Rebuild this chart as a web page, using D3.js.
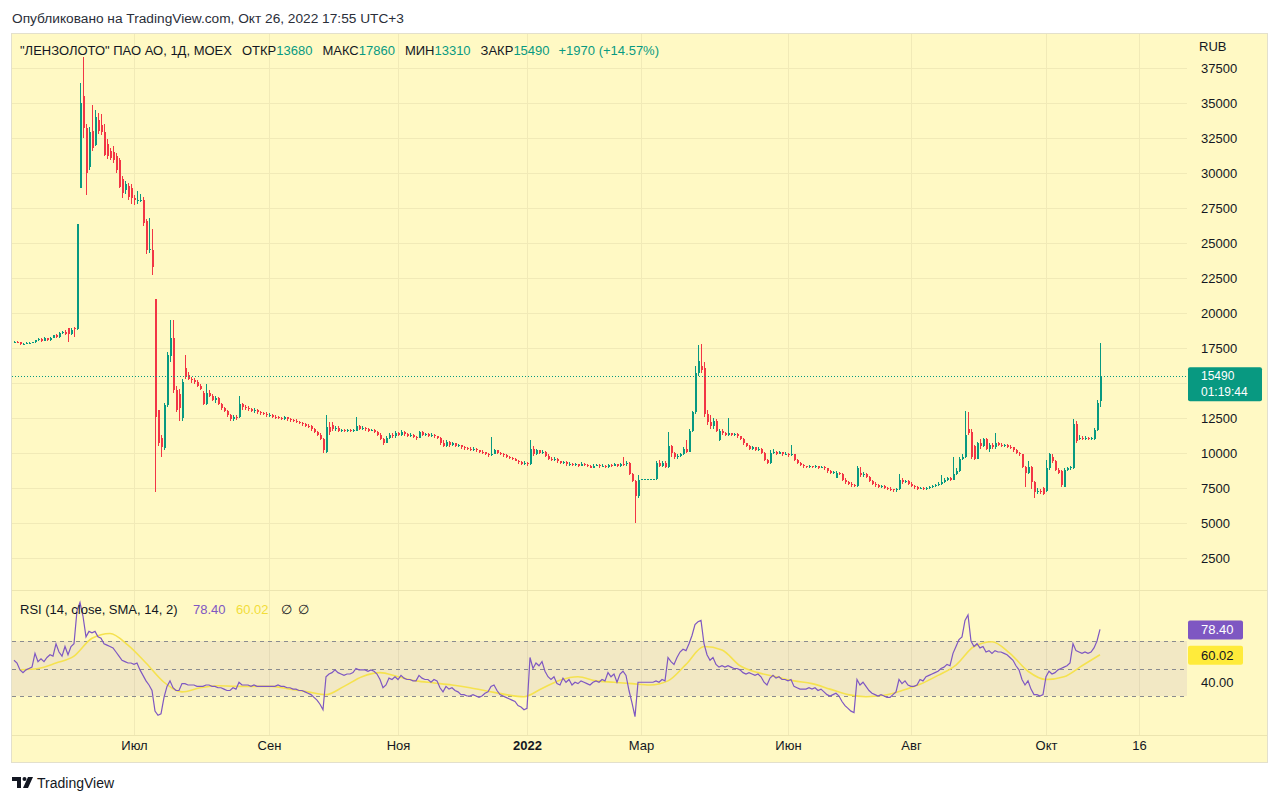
<!DOCTYPE html>
<html>
<head>
<meta charset="utf-8">
<script src="https://cdn.jsdelivr.net/npm/d3@7"></script>
<style>
  body { margin: 0; background: #fff; font-family: "Liberation Sans", Arial, sans-serif; }
  svg text { font-family: "Liberation Sans", Arial, sans-serif; }
</style>
</head>
<body>
<div id="chart"></div>
<script>
// daily candles, LNZL MOEX, May 2021 .. Oct 26 2022 (bar index = trading day)
var OPEN = [17900,17950,17900,17780,17820,17850,17880,17900,18050,18150,18000,18200,18050,18250,18400,18300,18550,18650,18900,18500,18900,
18850,28900,35500,33200,30450,33000,32000,33800,33400,32900,32100,31600,31500,31200,30900,29600,28800,29100,28900,28200,28000,28000,28100,26600,24500,24500,
21000,13100,11100,10330,13430,16900,18200,14500,14200,12480,16050,
15600,15300,15200,15100,14800,
14300,13500,14300,14100,13800,13900,13500,13200,13000,12700,12450,12600,
12600,13500,13300,13250,13150,13000,13100,12900,12850,12800,12700,12750,12600,12550,12500,
12450,12550,12400,12350,12300,12250,12150,12050,11950,11900,11700,11500,11300,11000,
10100,11850,12000,11700,11800,11600,11650,11600,11650,11600,
11600,11900,11750,11800,11700,11600,11650,11500,11300,11000,10750,11100,11300,11200,11400,
11300,11500,11350,11250,11300,11150,11100,11500,11300,11350,11250,11300,11200,
11100,10700,10500,10800,10600,10700,10500,10550,10400,10350,10300,10250,10300,10200,10100,10050,9950,
9850,9950,10200,10000,9900,9850,9750,9650,9600,9450,9350,9250,9300,
9200,10300,9900,10200,10000,10100,9800,9600,9500,9600,9400,9300,9350,9200,9250,9150,9200,
9100,9250,9150,9100,8950,9100,9150,9050,9100,9000,9150,9100,9200,9100,9250,9200,
9300,8500,8000,6900,8140,8140,8140,8140,8140,
8140,9300,9100,9300,9000,10500,10000,9700,9800,9900,10300,10100,11600,12900,15700,16200,
16100,12800,12200,11900,12300,10950,11600,11400,11300,11400,11300,11350,11200,11000,10700,10500,
10300,10400,10250,10300,10000,9500,9300,10000,10100,9950,10050,9900,9950,9850,
9900,9500,9300,9150,9050,9000,9050,9000,9050,8950,9000,8900,8700,8600,
8250,8600,8500,8100,7900,7800,7700,7650,8600,8400,8500,8300,8000,7800,7700,
7600,7650,7500,7450,7400,7350,7400,8100,7900,8000,7800,7650,7550,7450,7500,7400,
7500,7550,7650,7700,7800,7900,8050,8200,8100,8500,8700,9600,9700,11700,
11500,10500,9600,10700,10500,11000,10300,10600,10400,10700,10600,10500,10550,10450,10400,10200,10000,
9900,9000,8600,9000,7900,7200,7300,7500,7300,8900,9700,9400,8800,8700,
7600,8800,8900,8900,12100,11000,11100,11050,11100,11000,11000,11650,13680];

var HIGH = [18000,18000,17950,17880,17900,17920,17950,18100,18200,18250,18280,18250,18300,18450,18500,18650,18750,18800,18950,18900,19000,
26350,36400,38300,33500,33300,34850,34500,34300,34200,33500,32400,31800,31900,31400,31100,29800,29400,29300,29200,28400,28700,28500,28300,26700,26800,26000,
21000,13100,11300,13600,17200,19500,19500,14800,14600,15300,17000,
15800,15400,15350,15200,14900,
14400,14900,14500,14200,14100,14000,13600,13300,13100,12800,12700,12700,
14100,13600,13450,13350,13250,13200,13150,13000,12950,12900,12850,12800,12700,12650,12600,
12650,12600,12500,12450,12400,12300,12250,12150,12050,12000,11800,11600,11400,11100,
12700,12200,12250,11950,11900,11750,11750,11700,11750,11700,
12600,12000,11900,11850,11800,11750,11700,11600,11400,11100,11200,11400,11400,11600,11500,
11650,11600,11450,11400,11350,11250,11600,11600,11450,11450,11400,11350,11250,
11150,10900,10900,10850,10800,10750,10650,10600,10500,10450,10400,10400,10350,10250,10200,10100,10000,
11170,10300,10250,10100,10000,9900,9800,9750,9650,9500,9400,9400,9350,
10900,10500,10300,10250,10200,10150,9900,9700,9700,9650,9450,9450,9400,9350,9300,9300,9250,
9350,9300,9200,9150,9200,9250,9200,9200,9150,9250,9200,9300,9250,9300,9750,9400,
9350,8600,8100,8450,8140,8140,8140,8140,8140,
9400,9500,9400,9400,11500,10600,10100,9900,10000,10400,10900,11700,13000,16200,17700,17800,
16500,13100,12700,12500,12400,11700,11700,11500,12500,11450,11450,11400,11250,11050,10750,10550,
10500,10450,10400,10350,10050,9600,10200,10300,10150,10150,10100,10050,10000,10600,
9950,9550,9350,9200,9100,9150,9100,9150,9100,9100,9050,8950,8800,8750,
8700,8650,8550,8200,8000,7900,7800,9050,9000,8650,8550,8350,8100,7900,7800,
7750,7700,7600,7550,7450,7500,8500,8200,8100,8050,7900,7700,7650,7600,7550,7600,
7650,7750,7800,7900,8400,8200,8300,8300,9700,8900,9700,9900,13000,12900,
11700,10600,10800,11000,11100,11050,10700,10700,11400,10800,10700,10650,10650,10550,10450,10300,10100,
9950,9100,9400,9050,8000,7500,7400,7600,9500,10000,9900,9500,8900,8800,
8900,9000,9100,12400,12300,11300,11200,11200,11150,11150,11800,13800,17860];

var LOW = [17850,17850,17700,17720,17780,17800,17830,17870,18000,17950,17980,18000,18000,18200,18250,18250,18500,18400,17950,18450,18300,
18800,28900,32500,28400,30200,31600,31900,32800,32700,31200,31000,30900,30700,30000,28900,28200,28500,28100,27800,27700,27800,27900,26200,24200,24300,22700,
7250,10500,9750,10200,13300,16500,14300,12900,12300,12300,15300,
15200,15000,14900,14700,14500,
13400,13400,14000,13700,13600,13400,13100,12900,12600,12300,12300,12350,
12500,13100,13100,13000,12900,12850,12800,12700,12700,12600,12600,12500,12450,12400,12350,
12350,12300,12250,12200,12150,12050,11950,11850,11800,11600,11400,11200,10900,10000,
10000,11300,11600,11600,11500,11500,11500,11500,11500,11500,
11550,11650,11650,11600,11500,11550,11400,11200,10900,10600,10700,11000,11100,11100,11200,
11250,11250,11150,11150,11050,10950,11050,11200,11200,11150,11150,11100,11000,
10600,10400,10450,10450,10500,10400,10400,10300,10250,10200,10150,10150,10100,10000,9950,9850,9750,
9800,9900,9950,9850,9750,9650,9550,9500,9400,9250,9150,9150,9100,
9150,9800,9850,9900,9900,9700,9500,9400,9400,9300,9200,9200,9100,9100,9050,9050,9000,
9050,9050,9000,8900,8900,9050,8950,9000,8950,8950,9000,9050,9000,9000,9100,9100,
8400,7900,4980,6800,8140,8140,8140,8140,8140,
8100,9000,9000,8900,8950,9700,9600,9600,9750,9850,10000,10050,11500,12800,15500,15700,
12600,12000,11700,11700,11500,10850,11300,11200,11250,11200,11200,11100,10900,10600,10400,10200,
10200,10150,10150,9900,9400,9200,9250,9900,9850,9900,9800,9850,9750,9800,
9400,9200,9050,8950,8900,8950,8900,8950,8850,8900,8800,8600,8500,8500,
8200,8400,8000,7800,7700,7600,7550,7600,8300,8300,8200,7900,7700,7600,7500,
7500,7400,7350,7300,7250,7250,7350,7800,7850,7700,7550,7450,7350,7400,7350,7350,
7450,7500,7600,7650,7750,7850,8000,8000,8050,8400,8650,9500,9650,11300,
9600,9500,9550,10300,10400,10200,10100,10300,10300,10500,10400,10400,10350,10300,10100,9900,9800,
8900,7600,8500,7400,6800,7050,7050,7000,7200,8800,9300,8700,8500,7600,
7550,8700,8800,8850,10700,10900,10950,10950,10900,10900,10950,11600,13310];

var CLOSE = [17950,17900,17780,17820,17850,17880,17900,18050,18150,18000,18200,18050,18250,18400,18300,18550,18650,18500,18500,18800,18850,
26350,35000,33200,30000,32950,31800,34000,33000,32900,31300,31200,31050,30900,30200,29000,28600,29200,28300,28200,28050,28100,28100,26400,24500,24600,23300,
12600,10700,10450,13430,17000,18200,14500,13070,13200,15090,15450,
15300,15200,15100,14800,14600,
13500,14300,14100,13800,13900,13500,13200,13000,12700,12450,12600,12500,
13500,13300,13250,13150,13000,13100,12900,12850,12800,12700,12750,12600,12550,12500,12450,
12550,12400,12350,12300,12250,12150,12050,11950,11900,11700,11500,11300,11000,10200,
11850,11500,11700,11800,11600,11650,11600,11650,11600,11650,
11900,11750,11800,11700,11600,11650,11500,11300,11000,10750,11100,11300,11200,11400,11300,
11500,11350,11250,11300,11150,11100,11500,11300,11350,11250,11300,11200,11100,
10700,10500,10800,10600,10700,10500,10550,10400,10350,10300,10250,10300,10200,10100,10050,9950,9850,
9950,10200,10000,9900,9850,9750,9650,9600,9450,9350,9250,9300,9200,
10300,9900,10200,10000,10100,9800,9600,9500,9600,9400,9300,9350,9200,9250,9150,9200,9100,
9250,9150,9100,8950,9100,9150,9050,9100,9000,9150,9100,9200,9100,9250,9200,9300,
8500,8000,6900,8100,8140,8140,8140,8140,8140,
9300,9100,9300,9000,10500,10000,9700,9800,9900,10300,10100,11600,12900,15700,16600,15900,
12800,12200,11900,12300,11600,11600,11400,11300,11400,11300,11350,11200,11000,10700,10500,10300,
10400,10250,10300,10000,9500,9300,10000,10100,9950,10050,9900,9950,9850,9900,
9500,9300,9150,9050,9000,9050,9000,9050,8950,9000,8900,8700,8600,8650,
8600,8500,8100,7900,7800,7700,7650,8900,8400,8500,8300,8000,7800,7700,7600,
7650,7500,7450,7400,7350,7400,8100,7900,8000,7800,7650,7550,7450,7500,7400,7500,
7550,7650,7700,7800,7900,8050,8200,8100,8500,8700,9600,9700,11300,11400,
9700,9600,10700,10500,11000,10300,10600,10400,10700,10600,10500,10550,10450,10400,10200,10000,9900,
9000,8600,9000,7900,7200,7300,7200,7100,8900,9900,9400,8800,8600,7700,
8800,8900,9000,12100,10850,11100,11050,11100,11000,11050,11650,13550,15490];

// RSI(14) per bar
var RSI = [56,54,49,47,49,50,51,61,55,57, 55,58,60,59,68,62,59,66,60,66,
68,92,98,88,73,77,76,77,73,72, 68,67,66,65,62,59,56,55,54,54,
53,54,49,45,41,38,34,19,16,17, 29,37,41,36,34,34,39,39,38,38,
38,37,37,37,38,38,37,37,36,36, 35,34,34,36,35,40,38,38,38,37,
38,37,37,37,37,37,37,37,38,37, 37,36,36,35,35,34,34,33,32,31,
29,27,24,20,44,46,47,49,47,46, 45,46,46,47,50,49,49,49,48,49,
48,46,42,36,38,43,42,44,42,45, 43,42,42,41,41,45,43,42,42,40,
42,41,36,33,37,35,36,34,33,31, 31,30,30,31,30,29,30,32,33,37,
38,34,31,30,29,28,27,26,23,22, 20,21,58,50,54,52,55,48,44,42,
44,39,38,43,40,42,38,40,39,41, 40,39,38,40,41,40,42,41,47,44,
46,40,46,48,45,34,25,15,40,40, 40,40,40,40,41,40,42,41,58,55,
53,58,62,64,63,68,74,82,84,85, 68,60,56,58,53,51,52,51,52,51,
50,50,49,47,46,47,46,45,46,44, 40,38,43,45,43,44,42,42,41,42,
37,36,35,35,35,36,35,36,34,35, 33,31,30,31,32,30,26,23,21,19,
18,42,38,40,37,34,32,31,30,31, 30,29,29,31,33,42,39,41,38,37,
37,38,42,41,44,45,46,47,48,50, 51,53,52,61,66,71,73,85,89,70,
66,68,65,66,62,63,61,63,62,62, 61,60,58,56,52,49,42,38,41,35,
31,31,30,31,44,48,46,47,49,50, 51,52,54,68,63,62,61,62,61,62,
65,70,78.4];

// RSI-based SMA(14), read every 6th bar starting at bar 2
var SMA_START = 2, SMA_STEP = 6;
var SMA = [49,50,54,59,72,75.5,67,54,40,33,36,37.5,37,37,37,35,33,31,37,44,
47,44,41,39.5,38,36,33.5,31,29.5,35.5,41.5,44,41,40,39,38,41,53,66,63.5,
52,47,44,41,39,35,31,29.5,30.5,34,38.5,45,52.5,66,69.5,61,48,42,44,52,60.02];

var PRICE_TICKS = [2500,5000,7500,10000,12500,15000,17500,20000,22500,25000,27500,30000,32500,35000,37500];
var TIME_TICKS = [40,85,128,171,209,258,299,344,375];
var TIME_LABELS = ["Июл","Сен","Ноя","2022","Мар","Июн","Авг","Окт","16"];
var RSI_LEVELS = [70,50,30];

var UP = "#089981", DOWN = "#f23645", TXT = "#131722";
var BG = "#fff9c4", GRID = "#f1eab7";

var W = 1280, H = 803;
var panel = {left: 12, top: 34, right: 1267, bottom: 762};
var plotRight = 1187;
var pricePane = {top: 34, bottom: 590};
var rsiPane = {top: 591, bottom: 735};

var svg = d3.select("#chart").append("svg").attr("width", W).attr("height", H);

var x = d3.scaleLinear().domain([0, 391]).range([14, plotRight]);
var yP = d3.scaleLinear().domain([2500, 37500]).range([558, 68]);
var yR = d3.scaleLinear().domain([30, 70]).range([696, 641]);

// header
svg.append("text").attr("x", 12).attr("y", 23).style("font-size", "13.7px").style("fill", "#2a2e39")
  .text("Опубликовано на TradingView.com, Окт 26, 2022 17:55 UTC+3");

// panel
svg.append("rect").attr("x", panel.left - 0.5).attr("y", panel.top - 0.5)
  .attr("width", panel.right - panel.left + 1).attr("height", panel.bottom - panel.top + 1)
  .attr("fill", BG).attr("stroke", "#e3e0cc");

var defs = svg.append("defs");
defs.append("clipPath").attr("id", "clipP").append("rect")
  .attr("x", panel.left).attr("y", pricePane.top).attr("width", plotRight - panel.left).attr("height", pricePane.bottom - pricePane.top);
defs.append("clipPath").attr("id", "clipR").append("rect")
  .attr("x", panel.left).attr("y", rsiPane.top).attr("width", plotRight - panel.left).attr("height", rsiPane.bottom - rsiPane.top);

// grids
var grid = svg.append("g").attr("shape-rendering", "crispEdges");
grid.selectAll("line.h").data(PRICE_TICKS).enter().append("line")
  .attr("x1", panel.left).attr("x2", plotRight)
  .attr("y1", function(d) { return Math.round(yP(d)) + 0.5; })
  .attr("y2", function(d) { return Math.round(yP(d)) + 0.5; })
  .attr("stroke", GRID);
grid.selectAll("line.v").data(TIME_TICKS).enter().append("line")
  .attr("x1", function(d) { return Math.round(x(d)) + 0.5; })
  .attr("x2", function(d) { return Math.round(x(d)) + 0.5; })
  .attr("y1", panel.top).attr("y2", rsiPane.bottom)
  .attr("stroke", GRID);
// pane separators
grid.append("line").attr("x1", panel.left).attr("x2", panel.right).attr("y1", 590.5).attr("y2", 590.5).attr("stroke", "#ece5b0");
grid.append("line").attr("x1", panel.left).attr("x2", panel.right).attr("y1", 735.5).attr("y2", 735.5).attr("stroke", "#ece5b0");

// candles
var gc = svg.append("g").attr("clip-path", "url(#clipP)").attr("shape-rendering", "crispEdges");
var bars = d3.range(CLOSE.length);
gc.selectAll("line.wick").data(bars).enter().append("line")
  .attr("x1", function(i) { return Math.round(x(i)) + 0.5; })
  .attr("x2", function(i) { return Math.round(x(i)) + 0.5; })
  .attr("y1", function(i) { return yP(HIGH[i]); })
  .attr("y2", function(i) { return yP(LOW[i]); })
  .attr("stroke", function(i) { return CLOSE[i] >= OPEN[i] ? UP : DOWN; });
gc.selectAll("rect.body").data(bars).enter().append("rect")
  .attr("x", function(i) { return Math.round(x(i)) - 0.5; })
  .attr("width", 2)
  .attr("y", function(i) { return yP(Math.max(OPEN[i], CLOSE[i])); })
  .attr("height", function(i) { return Math.max(1, Math.abs(yP(OPEN[i]) - yP(CLOSE[i]))); })
  .attr("fill", function(i) { return CLOSE[i] >= OPEN[i] ? UP : DOWN; });

// last price line
var last = CLOSE[CLOSE.length - 1];
var ly = yP(last);
svg.append("line").attr("x1", panel.left).attr("x2", plotRight)
  .attr("y1", Math.round(ly) + 0.5).attr("y2", Math.round(ly) + 0.5)
  .attr("stroke", UP).attr("stroke-dasharray", "1,2");

// price axis (labels hidden behind the last-price box are left out, as on screen)
var shownTicks = PRICE_TICKS.filter(function(d) { var y = yP(d); return y < ly - 16 || y > ly + 32; });
var pAxis = svg.append("g").attr("transform", "translate(" + plotRight + ",0)")
  .call(d3.axisRight(yP).tickValues(shownTicks).tickSize(0).tickPadding(14).tickFormat(d3.format("d")));
pAxis.select(".domain").remove();
pAxis.selectAll("text").style("font-size", "13px").style("fill", TXT).style("font-family", "Liberation Sans, Arial, sans-serif");
svg.append("text").attr("x", 1199).attr("y", 51).style("font-size", "13px").style("fill", TXT).text("RUB");

svg.append("rect").attr("x", 1188).attr("y", ly - 9).attr("width", 74).attr("height", 34).attr("rx", 2).attr("fill", UP);
svg.append("text").attr("x", 1201).attr("y", ly + 4).style("font-size", "12px").style("fill", "#fff").text(d3.format("d")(last));
svg.append("text").attr("x", 1201).attr("y", ly + 20).style("font-size", "12px").style("fill", "#fff").text("01:19:44");

// legend, flowed left to right: label directly followed by value
var legParts = [
  {t: "\"ЛЕНЗОЛОТО\" ПАО АО, 1Д, MOEX", c: TXT, gap: 10},
  {t: "ОТКР", c: TXT, gap: 0}, {t: d3.format("d")(OPEN[OPEN.length - 1]), c: UP, gap: 10},
  {t: "МАКС", c: TXT, gap: 0}, {t: d3.format("d")(HIGH[HIGH.length - 1]), c: UP, gap: 10},
  {t: "МИН", c: TXT, gap: 0}, {t: d3.format("d")(LOW[LOW.length - 1]), c: UP, gap: 10},
  {t: "ЗАКР", c: TXT, gap: 0}, {t: d3.format("d")(last), c: UP, gap: 9},
  {t: "+1970 (+14.57%)", c: UP, gap: 0}
];
var leg = svg.append("g").style("font-size", "13px");
var lx = 20;
legParts.forEach(function(p) {
  var t = leg.append("text").attr("x", lx).attr("y", 55).style("fill", p.c).text(p.t);
  lx += t.node().getComputedTextLength() + p.gap;
});

// RSI pane
var gr = svg.append("g").attr("clip-path", "url(#clipR)");
gr.append("rect").attr("x", panel.left).attr("width", plotRight - panel.left)
  .attr("y", yR(70)).attr("height", yR(30) - yR(70)).attr("fill", "rgba(126,87,194,0.1)");
gr.selectAll("line.lvl").data(RSI_LEVELS).enter().append("line")
  .attr("x1", panel.left).attr("x2", plotRight)
  .attr("y1", function(d) { return Math.round(yR(d)) + 0.5; })
  .attr("y2", function(d) { return Math.round(yR(d)) + 0.5; })
  .attr("stroke", "#8a8b8f").attr("stroke-dasharray", "4,4").attr("shape-rendering", "crispEdges");
gr.append("path").datum(SMA)
  .attr("d", d3.line().x(function(d, k) { return x(SMA_START + k * SMA_STEP); }).y(function(d) { return yR(d); }).curve(d3.curveMonotoneX))
  .attr("fill", "none").attr("stroke", "#f5e24f").attr("stroke-width", 1.6);
gr.append("path").datum(RSI)
  .attr("d", d3.line().x(function(d, i) { return x(i); }).y(function(d) { return yR(d); }))
  .attr("fill", "none").attr("stroke", "#7e57c2").attr("stroke-width", 1.2);

var rsiLast = RSI[RSI.length - 1], smaLast = SMA[SMA.length - 1];
var rl = svg.append("g").style("font-size", "13px");
rl.append("text").attr("x", 20).attr("y", 614).style("fill", TXT).text("RSI (14, close, SMA, 14, 2)");
rl.append("text").attr("x", 193).attr("y", 614).style("fill", "#7e57c2").text(d3.format(".2f")(rsiLast));
rl.append("text").attr("x", 236).attr("y", 614).style("fill", "#f2dd3a").text(d3.format(".2f")(smaLast));
rl.append("text").attr("x", 281).attr("y", 614).style("fill", TXT).text("∅");
rl.append("text").attr("x", 298).attr("y", 614).style("fill", TXT).text("∅");

svg.append("rect").attr("x", 1188).attr("y", yR(rsiLast) - 9).attr("width", 55).attr("height", 19).attr("rx", 2).attr("fill", "#7e57c2");
svg.append("text").attr("x", 1201).attr("y", yR(rsiLast) + 5).style("font-size", "13px").style("fill", "#fff").text(d3.format(".2f")(rsiLast));
svg.append("rect").attr("x", 1188).attr("y", yR(smaLast) - 9).attr("width", 55).attr("height", 19).attr("rx", 2).attr("fill", "#ffeb3b");
svg.append("text").attr("x", 1201).attr("y", yR(smaLast) + 5).style("font-size", "13px").style("fill", TXT).text(d3.format(".2f")(smaLast));
svg.append("text").attr("x", 1201).attr("y", yR(40) + 5).style("font-size", "13px").style("fill", TXT).text("40.00");

// time axis
var tAxis = svg.append("g").attr("transform", "translate(0," + rsiPane.bottom + ")")
  .call(d3.axisBottom(x).tickValues(TIME_TICKS).tickSize(0).tickPadding(6)
    .tickFormat(function(d, i) { return TIME_LABELS[i]; }));
tAxis.select(".domain").remove();
tAxis.selectAll("text").style("font-size", "13px").style("fill", TXT).style("font-family", "Liberation Sans, Arial, sans-serif")
  .style("font-weight", function(d, i) { return TIME_LABELS[i] === "2022" ? "bold" : "normal"; });

// footer logo
var logo = svg.append("g").attr("fill", TXT);
logo.append("path").attr("d", "M12,777 h9 v11 h-4 v-7 h-5 z");
logo.append("circle").attr("cx", 24.5).attr("cy", 779).attr("r", 2);
logo.append("path").attr("d", "M28,777 h5 l-5,11 h-5 z");
svg.append("text").attr("x", 37).attr("y", 788).style("font-size", "14px").style("fill", TXT).text("TradingView");
</script>
</body>
</html>
